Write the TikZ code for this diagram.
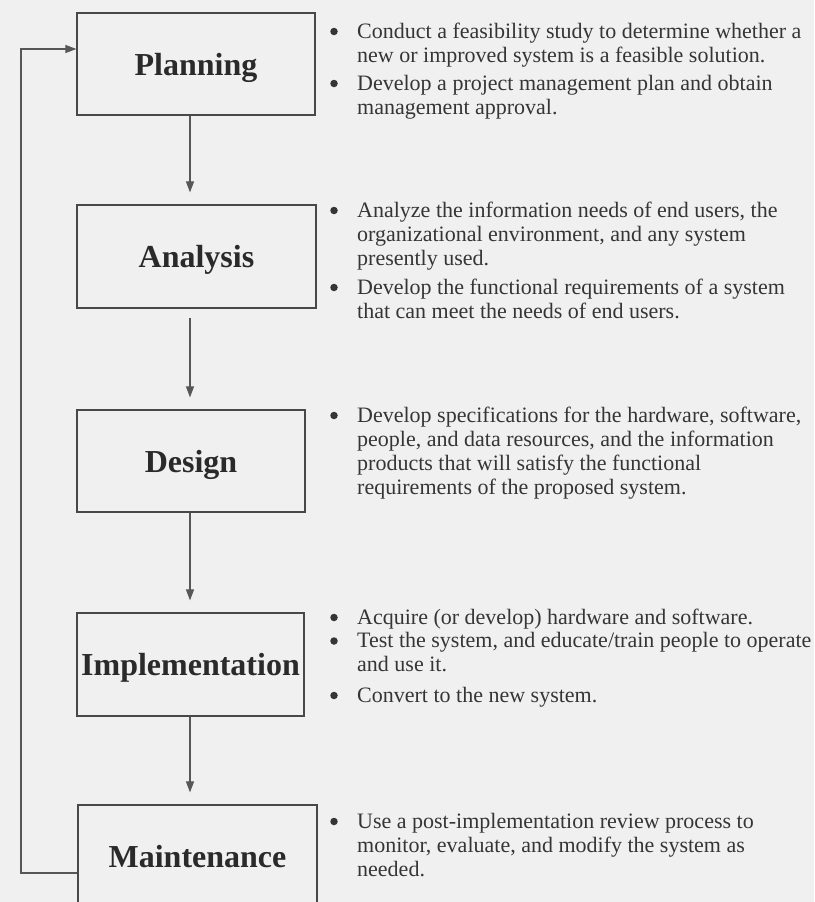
\documentclass[tikz,border=0pt]{standalone}
\usepackage{fontspec}
\setmainfont{Liberation Serif}
\usetikzlibrary{arrows.meta}
\definecolor{bg}{HTML}{F0F0F0}
\definecolor{ink}{HTML}{353535}
\definecolor{lab}{HTML}{2A2A2A}
\definecolor{edge}{HTML}{484848}
\definecolor{arrc}{HTML}{575757}
\begin{document}
\begin{tikzpicture}[x=1pt,y=-1pt,
  phase/.style={draw=edge, line width=1.2pt, inner sep=0pt,
    font=\fontsize{32}{36}\selectfont\bfseries, text=lab,
    text height=26pt, text depth=4pt},
  item/.style={anchor=north west, align=left, inner sep=0pt,
    font=\fontsize{22}{24}\selectfont, text=ink},
  dot/.style={circle, fill=ink, inner sep=0pt, minimum size=7.5pt},
  arr/.style={draw=arrc, line width=1.1pt, -{Triangle[length=11pt,width=8pt]}}]
\clip (0,0) rectangle (814,902);
\fill[bg] (0,0) rectangle (814,902);

% phase boxes
\node[phase, minimum width=238pt, minimum height=102pt] (plan) at (196,64) {Planning};
\node[phase, minimum width=239pt, minimum height=103pt] (ana) at (196.5,256.5) {Analysis};
\node[phase, minimum width=228pt, minimum height=102pt] (des) at (191,461) {Design};
\node[phase, minimum width=227pt, minimum height=103pt] (imp) at (190.5,664.5) {Implementation};
\node[phase, minimum width=239pt, minimum height=102pt] (mai) at (197.5,856) {Maintenance};

% connectors
\coordinate (ax) at (190,0);
\draw[arr, shorten >=12pt] (ax |- plan.south) -- (ax |- ana.north);
\draw[arr, shorten <=9pt, shorten >=12pt] (ax |- ana.south) -- (ax |- des.north);
\draw[arr, shorten >=12pt] (ax |- des.south) -- (ax |- imp.north);
\draw[arr, shorten >=12pt] (ax |- imp.south) -- (ax |- mai.north);
\coordinate (fbl) at (78,873);
\coordinate (fbt) at (21,49);
\draw[arr] (mai.west |- fbl) -| (fbt) -- (plan.west |- fbt);

% bullets: Planning  (item top = first baseline - 16.8, dot = baseline - 6.5)
\node[dot] (pd1) at (334,31.5) {};
\node[item] (pt1) at (357,21.2) {\strut Conduct a feasibility study to determine whether a\\new or improved system is a feasible solution.};
\node[dot] (pd2) at (334,83.5) {};
\node[item] (pt2) at (357,73.2) {\strut Develop a project management plan and obtain\\management approval.};

% Analysis
\node[dot] (ad1) at (334,210.5) {};
\node[item] (at1) at (357,200.2) {\strut Analyze the information needs of end users, the\\organizational environment, and any system\\presently used.};
\node[dot] (ad2) at (334,287.5) {};
\node[item] (at2) at (357,277.2) {\strut Develop the functional requirements of a system\\that can meet the needs of end users.};

% Design
\node[dot] (dd1) at (334,415.5) {};
\node[item] (dt1) at (357,405.2) {\strut Develop specifications for the hardware, software,\\people, and data resources, and the information\\products that will satisfy the functional\\requirements of the proposed system.};

% Implementation
\node[dot] (id1) at (334,617.5) {};
\node[item] (it1) at (357,607.2) {\strut Acquire (or develop) hardware and software.};
\node[dot] (id2) at (334,641) {};
\node[item] (it2) at (357,630.7) {\strut Test the system, and educate/train people to operate\\and use it.};
\node[dot] (id3) at (334,695.5) {};
\node[item] (it3) at (357,685.2) {\strut Convert to the new system.};

% Maintenance
\node[dot] (md1) at (334,821.5) {};
\node[item] (mt1) at (357,811.2) {\strut Use a post-implementation review process to\\monitor, evaluate, and modify the system as\\needed.};
\end{tikzpicture}
\end{document}
